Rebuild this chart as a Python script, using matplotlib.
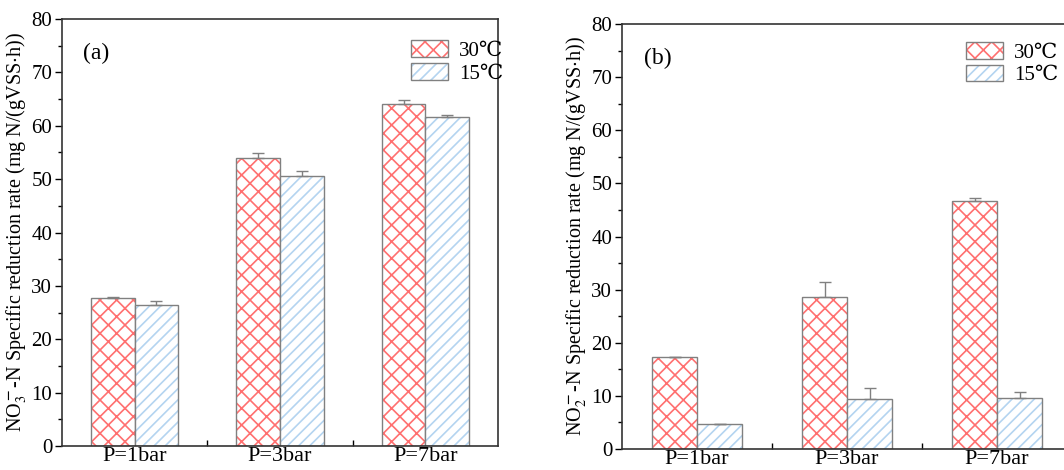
import numpy as np
import matplotlib
matplotlib.use('Agg')
from matplotlib import pyplot as plt
from matplotlib.patches import Patch
from matplotlib.legend_handler import HandlerTuple
from matplotlib.ticker import MultipleLocator

plt.rcParams['font.family'] = ['Liberation Serif', 'DejaVu Serif']
plt.rcParams['mathtext.fontset'] = 'stix'
plt.rcParams['hatch.linewidth'] = 1.2

# data
pressures = ['P=1bar', 'P=3bar', 'P=7bar']
temps = ['30℃', '15℃']

no3_30 = [27.8, 54.0, 64.1]
no3_30_err = [0.1, 0.9, 0.8]
no3_15 = [26.5, 50.6, 61.7]
no3_15_err = [0.7, 1.0, 0.3]

no2_30 = [17.3, 28.6, 46.6]
no2_30_err = [0.1, 2.9, 0.6]
no2_15 = [4.65, 9.4, 9.55]
no2_15_err = [0.1, 2.1, 1.1]

red = '#ff7070'
blue = '#b4d4f0'
gray = '#808080'
w = 0.3


def hatched_bars(ax, x, vals, errs, color, hatch):
    ax.bar(x, vals, w, color='white', edgecolor=color, hatch=hatch, lw=0)
    ax.bar(x, vals, w, fill=False, edgecolor=gray, lw=1.0)
    ax.errorbar(x, vals, yerr=[np.zeros(len(errs)), errs], fmt='none',
                ecolor=gray, elinewidth=1.0, capsize=4, capthick=1.0)


def panel(ax, v30, e30, v15, e15, label, ylab, leg_xy):
    x = np.arange(len(pressures))
    hatched_bars(ax, x - w / 2, v30, e30, red, 'xx')
    hatched_bars(ax, x + w / 2, v15, e15, blue, '///')
    ax.set_xlim(-0.5, 2.5)
    ax.set_ylim(0, 80)
    ax.yaxis.set_major_locator(MultipleLocator(10))
    ax.yaxis.set_minor_locator(MultipleLocator(5))
    ax.tick_params(axis='y', which='major', direction='out', length=5,
                   width=1.0, labelsize=15, pad=2)
    ax.tick_params(axis='y', which='minor', direction='out', length=3, width=1.0)
    ax.set_xticks(x)
    ax.set_xticklabels(pressures, fontsize=16)
    ax.tick_params(axis='x', which='major', length=0, pad=1)
    ax.set_xticks([0.5, 1.5], minor=True)
    ax.tick_params(axis='x', which='minor', direction='in', length=4, width=1.0)
    for s in ax.spines.values():
        s.set_linewidth(1.2)
        s.set_color('#333333')
    ax.set_ylabel(ylab, fontsize=14.5, labelpad=2)
    ax.text(0.048, 0.92, label, transform=ax.transAxes, fontsize=17,
            va='center', ha='left')

    h30 = (Patch(facecolor='white', edgecolor=red, hatch='xx', lw=0),
           Patch(fill=False, edgecolor=gray, lw=1.0))
    h15 = (Patch(facecolor='white', edgecolor=blue, hatch='///', lw=0),
           Patch(fill=False, edgecolor=gray, lw=1.0))
    ax.legend([h30, h15], temps, handler_map={tuple: HandlerTuple(ndivide=1, pad=0)},
              loc='upper left', bbox_to_anchor=leg_xy, frameon=False,
              fontsize=15, borderpad=0, handlelength=1.8, handleheight=0.85,
              labelspacing=0.1, handletextpad=0.5, borderaxespad=0)


fig = plt.figure(figsize=(10.64, 4.70), dpi=100)
ax1 = fig.add_axes([62 / 1064, 1 - 446 / 470, 436 / 1064, 427 / 470])
ax2 = fig.add_axes([622 / 1064, 1 - 449 / 470, 450 / 1064, 425 / 470])

panel(ax1, no3_30, no3_30_err, no3_15, no3_15_err, '(a)',
      r'NO$_3^{\bf -}$-N Specific reduction rate (mg N/(gVSS$\cdot$h))', (0.80, 0.95))
panel(ax2, no2_30, no2_30_err, no2_15, no2_15_err, '(b)',
      r'NO$_2^{\bf -}$-N Specific reduction rate (mg N/(gVSS$\cdot$h))', (0.764, 0.957))

fig.savefig('out.png', dpi=100)
